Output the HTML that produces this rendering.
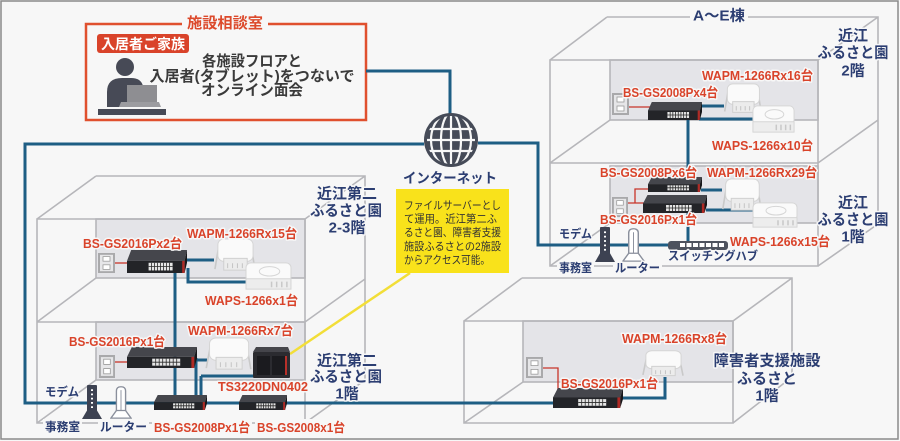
<!DOCTYPE html>
<html><head><meta charset="utf-8">
<style>
html,body{margin:0;padding:0;background:#f7f7f7;}
svg{display:block;}
text{font-family:"Liberation Sans","Noto Sans CJK JP",sans-serif;font-weight:bold;}
.r{fill:#d9432a;font-size:13px;stroke:#f7f7f7;stroke-width:3px;paint-order:stroke;stroke-linejoin:round;}
.n{fill:#2c3e72;font-size:15px;stroke:#f7f7f7;stroke-width:3px;paint-order:stroke;stroke-linejoin:round;text-anchor:middle;}
.s{fill:#2c3e72;font-size:12px;stroke:#f7f7f7;stroke-width:3px;paint-order:stroke;stroke-linejoin:round;}
.b{fill:#3a3a3a;font-size:15px;text-anchor:middle;}
.y{fill:#333;font-size:11px;font-weight:normal;}
.bl{fill:none;stroke:#b6b6ba;stroke-width:1.6;}
.pn{fill:#e4e4e8;stroke:#b6b6ba;stroke-width:1.6;}
.cb{fill:none;stroke:#1e5e84;stroke-width:3;}
.cr{fill:none;stroke:#c8342a;stroke-width:1.3;}
</style></head>
<body>
<svg width="900" height="441" viewBox="0 0 900 441" xmlns="http://www.w3.org/2000/svg">
<defs>
 <symbol id="sw" viewBox="0 0 100 36" preserveAspectRatio="none">
  <polygon points="7,0 100,0 96,17 0,17" fill="#45464c"/>
  <rect x="0" y="17" width="96" height="19" fill="#232428"/>
  <polygon points="96,17 100,0 100,20 96,36" fill="#17171a"/>
  <rect x="36" y="20" width="40" height="12" fill="#e6e6e6"/>
  <path d="M36,26H76M41,20V32M46,20V32M51,20V32M56,20V32M61,20V32M66,20V32M71,20V32" stroke="#2a2a2a" stroke-width="0.8" vector-effect="non-scaling-stroke"/>
  <rect x="92" y="17" width="4" height="19" fill="#b02a25"/>
 </symbol>
 <symbol id="wapm" viewBox="0 0 46 36" preserveAspectRatio="none">
  <path d="M7,8 L3,32 M40,8 L44,33" stroke="#c9c9c9" stroke-width="1.6" vector-effect="non-scaling-stroke"/>
  <rect x="6" y="1" width="36" height="23" rx="6" fill="#fafafa" stroke="#d5d5d5" stroke-width="1" vector-effect="non-scaling-stroke"/>
  <rect x="12" y="21" width="24" height="12" fill="#ececec" stroke="#d0d0d0" stroke-width="1" vector-effect="non-scaling-stroke"/>
  <path d="M16,26V31M21,26V31M26,26V31M31,26V31" stroke="#c4c4c4" stroke-width="1" vector-effect="non-scaling-stroke"/>
 </symbol>
 <symbol id="waps" viewBox="0 0 46 30" preserveAspectRatio="none">
  <rect x="1" y="1" width="44" height="20" rx="5" fill="#fafafa" stroke="#d6d6d6" stroke-width="1" vector-effect="non-scaling-stroke"/>
  <ellipse cx="24" cy="10" rx="10" ry="5" fill="none" stroke="#d6d6d6" stroke-width="1" vector-effect="non-scaling-stroke"/>
  <rect x="1" y="18" width="44" height="11" fill="#ededed" stroke="#d6d6d6" stroke-width="1" vector-effect="non-scaling-stroke"/>
  <path d="M26,21V27M31,21V27M36,21V27M41,21V27" stroke="#c8c8c8" stroke-width="1.5" vector-effect="non-scaling-stroke"/>
 </symbol>
 <symbol id="out" viewBox="0 0 17 22" preserveAspectRatio="none">
  <rect x="0" y="0" width="17" height="22" fill="#a9a9ab"/>
  <rect x="2" y="2" width="13" height="18" fill="#e6e6e8"/>
  <rect x="5" y="4" width="7" height="5" fill="#fff" stroke="#999" stroke-width="0.8"/>
  <rect x="5" y="13" width="7" height="5" fill="#fff" stroke="#999" stroke-width="0.8"/>
 </symbol>
 <symbol id="modem" viewBox="0 0 20 40" preserveAspectRatio="none">
  <rect x="5" y="0" width="10" height="33" rx="1" fill="#3d4252"/>
  <path d="M10,5V7M10,10V12M10,15V17M10,20V22M10,25V27" stroke="#fff" stroke-width="2"/>
  <polygon points="0,40 5,30 15,30 20,40" fill="#3d4252"/>
 </symbol>
 <symbol id="router" viewBox="0 0 24 40" preserveAspectRatio="none">
  <path d="M7,32V7Q7,2 12,2Q17,2 17,7V32Z" fill="#fff" stroke="#8a8f9c" stroke-width="1.5"/>
  <path d="M12,6V30" stroke="#8a8f9c" stroke-width="1"/>
  <polygon points="1,39 7,30 17,30 23,39" fill="#fff" stroke="#8a8f9c" stroke-width="1.5"/>
 </symbol>
 <clipPath id="gc"><circle cx="451" cy="140" r="24"/></clipPath>
</defs>

<rect x="0" y="0" width="900" height="441" fill="#f7f7f7"/>
<rect x="1" y="1" width="897" height="438" fill="none" stroke="#8a8a8a" stroke-width="1.5"/>

<!-- consultation room -->
<rect x="86" y="24" width="280" height="96" fill="none" stroke="#e0502e" stroke-width="2.5"/>
<rect x="182" y="15" width="86" height="16" fill="#f7f7f7"/>
<text x="187" y="28" font-size="15" fill="#dc4a2c" textLength="76" lengthAdjust="spacingAndGlyphs">施設相談室</text>
<rect x="97" y="34" width="92" height="19" rx="3" fill="#d9432a"/>
<text x="101" y="49" font-size="14" fill="#fff" textLength="84" lengthAdjust="spacingAndGlyphs">入居者ご家族</text>
<circle cx="125" cy="67" r="9" fill="#474a56"/>
<path d="M107,107V92Q107,78 122,78H131Q141,78 143,86V107Z" fill="#474a56"/>
<rect x="127" y="85" width="30" height="17" fill="#8e8e92"/>
<polygon points="121,102 159,102 161,107 119,107" fill="#9c9ca0"/>
<rect x="98" y="109" width="68" height="6" fill="#474a56"/>
<text class="b" x="252" y="66" textLength="100" lengthAdjust="spacingAndGlyphs">各施設フロアと</text>
<text class="b" x="252" y="81" textLength="205" lengthAdjust="spacingAndGlyphs">入居者(タブレット)をつないで</text>
<text class="b" x="252" y="95" textLength="102" lengthAdjust="spacingAndGlyphs">オンライン面会</text>

<!-- Building A-E -->
<rect class="pn" x="610" y="60" width="208" height="60"/>
<rect class="pn" x="610" y="166" width="208" height="57"/>
<path class="bl" d="M550,60H818V266H550Z M607,17H878V224 M550,60L607,17 M818,60L878,17 M818,266L878,224 M550,163H818L878,120 M550,163L610,120 M550,266L610,223"/>

<!-- Building 近江第二 -->
<rect class="pn" x="96" y="219" width="209" height="59"/>
<rect class="pn" x="96" y="322" width="209" height="58"/>
<path class="bl" d="M37,219H305V423H37Z M96,176H365V380 M37,219L96,176 M305,219L365,176 M305,423L365,380 M37,322H305L365,279 M37,322L96,278 M37,423L96,380"/>

<!-- Building 障害者 -->
<rect class="pn" x="523" y="321" width="210" height="61"/>
<path class="bl" d="M464,321H733V423H464Z M522,278H792V377 M464,321L522,278 M733,321L792,278 M733,423L792,377 M464,423L523,382"/>

<!-- blue connections -->
<path class="cb" d="M366,71H450V114"/>
<path class="cb" d="M424,144H25V403H553"/>
<path class="cb" d="M478,143H538V245H668"/>
<path class="cb" d="M688,118V178 M688,212V245"/>
<path class="cb" d="M701,106H724 M699,119H755"/>
<path class="cb" d="M701,190H722 M706,210H753"/>
<path class="cb" d="M186,260H214 M188,268V282H246 M175,272V396"/>
<path class="cb" d="M196,358V396 M196,360H207 M201,376V396 M201,376H254"/>
<path class="cb" d="M622,398H665V377"/>

<!-- red power -->
<path class="cr" d="M629,107H650"/>
<path class="cr" d="M628,203H644 M635,203V189H649"/>
<path class="cr" d="M115,263H129"/>
<path class="cr" d="M115,362H129"/>
<path class="cr" d="M543,368H558V392"/>

<!-- globe -->
<circle cx="451" cy="140" r="27" fill="#464b58"/>
<g clip-path="url(#gc)" stroke="#f7f7f7" stroke-width="2.2" fill="none">
 <path d="M420,129H482 M420,140H482 M420,151H482 M451,110V170"/>
 <ellipse cx="451" cy="140" rx="10" ry="27"/>
 <ellipse cx="451" cy="140" rx="20" ry="27"/>
</g>
<text x="403" y="183" font-size="14" fill="#2c3e72" textLength="94" lengthAdjust="spacingAndGlyphs">インターネット</text>

<!-- yellow note -->
<path d="M410,273L290,354" stroke="#f2de38" stroke-width="2.5"/>
<rect x="396" y="189" width="113" height="84" fill="#f9e21b"/>
<text class="y" x="404" y="209" textLength="97" lengthAdjust="spacingAndGlyphs">ファイルサーバーとし</text>
<text class="y" x="404" y="222.5" textLength="93" lengthAdjust="spacingAndGlyphs">て運用。近江第二ふ</text>
<text class="y" x="404" y="236" textLength="97" lengthAdjust="spacingAndGlyphs">るさと園、障害者支援</text>
<text class="y" x="404" y="250" textLength="97" lengthAdjust="spacingAndGlyphs">施設ふるさとの2施設</text>
<text class="y" x="404" y="263.5" textLength="86" lengthAdjust="spacingAndGlyphs">からアクセス可能。</text>

<!-- devices A-E -->
<use href="#out" x="612" y="93" width="17" height="22"/>
<use href="#sw" x="648" y="102" width="54" height="18"/>
<use href="#wapm" x="722" y="83" width="41" height="32"/>
<use href="#waps" x="752" y="105" width="43" height="28"/>
<use href="#out" x="612" y="197" width="16" height="20"/>
<use href="#sw" x="648" y="177" width="54" height="15"/>
<use href="#sw" x="643" y="195" width="64" height="18"/>
<use href="#wapm" x="720" y="178" width="43" height="35"/>
<use href="#waps" x="752" y="202" width="46" height="26"/>
<use href="#modem" x="595" y="227" width="20" height="35"/>
<use href="#router" x="622" y="227" width="23" height="35"/>
<rect x="668" y="241" width="60" height="9" rx="3" fill="#4d525e"/>
<g fill="#fff"><rect x="680" y="243" width="5" height="4"/><rect x="686.5" y="243" width="5" height="4"/><rect x="693" y="243" width="5" height="4"/><rect x="699.5" y="243" width="5" height="4"/><rect x="706" y="243" width="5" height="4"/><rect x="712.5" y="243" width="5" height="4"/><rect x="719" y="243" width="5" height="4"/></g>

<!-- devices 近江第二 -->
<use href="#out" x="98" y="253" width="17" height="20"/>
<use href="#sw" x="127" y="250" width="60" height="23"/>
<use href="#wapm" x="212" y="238" width="45" height="35"/>
<use href="#waps" x="245" y="262" width="47" height="28"/>
<use href="#out" x="99" y="355" width="16" height="23"/>
<use href="#sw" x="127" y="347" width="70" height="21"/>
<use href="#wapm" x="203" y="337" width="50" height="35"/>
<g>
 <polygon points="256,347 288,347 290,352 253,352" fill="#45454b"/>
 <rect x="253" y="352" width="37" height="26" rx="1" fill="#2b2b30"/>
 <rect x="257" y="356" width="13" height="19" fill="#1b1b1f"/>
 <rect x="272" y="356" width="13" height="19" fill="#1b1b1f"/>
 <rect x="285" y="356" width="2" height="19" fill="#b8302a"/>
</g>
<use href="#modem" x="82" y="385" width="20" height="34"/>
<use href="#router" x="110" y="385" width="22" height="34"/>
<use href="#sw" x="154" y="395" width="53" height="15"/>
<use href="#sw" x="239" y="395" width="48" height="15"/>

<!-- devices 障害者 -->
<use href="#out" x="526" y="357" width="17" height="21"/>
<use href="#sw" x="553" y="388" width="70" height="20"/>
<use href="#wapm" x="640" y="350" width="45" height="28"/>

<!-- building labels -->
<rect x="690" y="8" width="58" height="16" fill="#f7f7f7"/>
<text class="n" x="719" y="20.5" textLength="52" lengthAdjust="spacingAndGlyphs">A〜E棟</text>
<text class="n" x="853" y="40.5">近江</text>
<text class="n" x="853" y="57.5" textLength="71" lengthAdjust="spacingAndGlyphs">ふるさと園</text>
<text class="n" x="853" y="75.5">2階</text>
<text class="n" x="853" y="207.5">近江</text>
<text class="n" x="853" y="224.5" textLength="71" lengthAdjust="spacingAndGlyphs">ふるさと園</text>
<text class="n" x="853" y="241.5">1階</text>
<text class="n" x="347" y="198.5" textLength="60" lengthAdjust="spacingAndGlyphs">近江第二</text>
<text class="n" x="346" y="215.5" textLength="72" lengthAdjust="spacingAndGlyphs">ふるさと園</text>
<text class="n" x="347" y="232.5">2-3階</text>
<text class="n" x="347" y="365.5" textLength="60" lengthAdjust="spacingAndGlyphs">近江第二</text>
<text class="n" x="346" y="381.5" textLength="72" lengthAdjust="spacingAndGlyphs">ふるさと園</text>
<text class="n" x="347" y="398.5">1階</text>
<text class="n" x="767" y="365.5" textLength="107" lengthAdjust="spacingAndGlyphs">障害者支援施設</text>
<text class="n" x="767" y="383.5">ふるさと</text>
<text class="n" x="767" y="400.5">1階</text>

<!-- small navy labels -->
<rect x="557" y="262" width="37" height="12" fill="#f7f7f7"/>
<rect x="613" y="262" width="49" height="12" fill="#f7f7f7"/>
<text class="s" x="559" y="238" textLength="33" lengthAdjust="spacingAndGlyphs">モデム</text>
<text class="s" x="559" y="272" textLength="33" lengthAdjust="spacingAndGlyphs">事務室</text>
<text class="s" x="615" y="272" textLength="45" lengthAdjust="spacingAndGlyphs">ルーター</text>
<text class="s" x="668" y="260" textLength="90" lengthAdjust="spacingAndGlyphs">スイッチングハブ</text>
<rect x="43" y="419" width="39" height="10" fill="#f7f7f7"/>
<rect x="98" y="419" width="51" height="10" fill="#f7f7f7"/>
<rect x="152" y="419" width="100" height="10" fill="#f7f7f7"/>
<rect x="255" y="419" width="92" height="10" fill="#f7f7f7"/>
<text class="s" x="45" y="396" textLength="34" lengthAdjust="spacingAndGlyphs">モデム</text>
<text class="s" x="45" y="431" textLength="35" lengthAdjust="spacingAndGlyphs">事務室</text>
<text class="s" x="100" y="431" textLength="47" lengthAdjust="spacingAndGlyphs">ルーター</text>

<!-- red device labels -->
<text class="r" x="623" y="97" textLength="95" lengthAdjust="spacingAndGlyphs">BS-GS2008Px4台</text>
<text class="r" x="702" y="80" textLength="111" lengthAdjust="spacingAndGlyphs">WAPM-1266Rx16台</text>
<text class="r" x="712" y="150" textLength="101" lengthAdjust="spacingAndGlyphs">WAPS-1266x10台</text>
<text class="r" x="600" y="177" textLength="97" lengthAdjust="spacingAndGlyphs">BS-GS2008Px6台</text>
<text class="r" x="707" y="177" textLength="110" lengthAdjust="spacingAndGlyphs">WAPM-1266Rx29台</text>
<text class="r" x="600" y="224" textLength="97" lengthAdjust="spacingAndGlyphs">BS-GS2016Px1台</text>
<text class="r" x="730" y="246" textLength="100" lengthAdjust="spacingAndGlyphs">WAPS-1266x15台</text>
<text class="r" x="83" y="248" textLength="99" lengthAdjust="spacingAndGlyphs">BS-GS2016Px2台</text>
<text class="r" x="187" y="238" textLength="110" lengthAdjust="spacingAndGlyphs">WAPM-1266Rx15台</text>
<text class="r" x="205" y="305" textLength="93" lengthAdjust="spacingAndGlyphs">WAPS-1266x1台</text>
<text class="r" x="69" y="346" textLength="96" lengthAdjust="spacingAndGlyphs">BS-GS2016Px1台</text>
<text class="r" x="188" y="335" textLength="105" lengthAdjust="spacingAndGlyphs">WAPM-1266Rx7台</text>
<text class="r" x="218" y="391" textLength="90" lengthAdjust="spacingAndGlyphs">TS3220DN0402</text>
<text class="r" x="154" y="432" textLength="96" lengthAdjust="spacingAndGlyphs">BS-GS2008Px1台</text>
<text class="r" x="257" y="432" textLength="88" lengthAdjust="spacingAndGlyphs">BS-GS2008x1台</text>
<text class="r" x="622" y="343" textLength="105" lengthAdjust="spacingAndGlyphs">WAPM-1266Rx8台</text>
<text class="r" x="561" y="388" textLength="97" lengthAdjust="spacingAndGlyphs">BS-GS2016Px1台</text>
</svg>
</body></html>
